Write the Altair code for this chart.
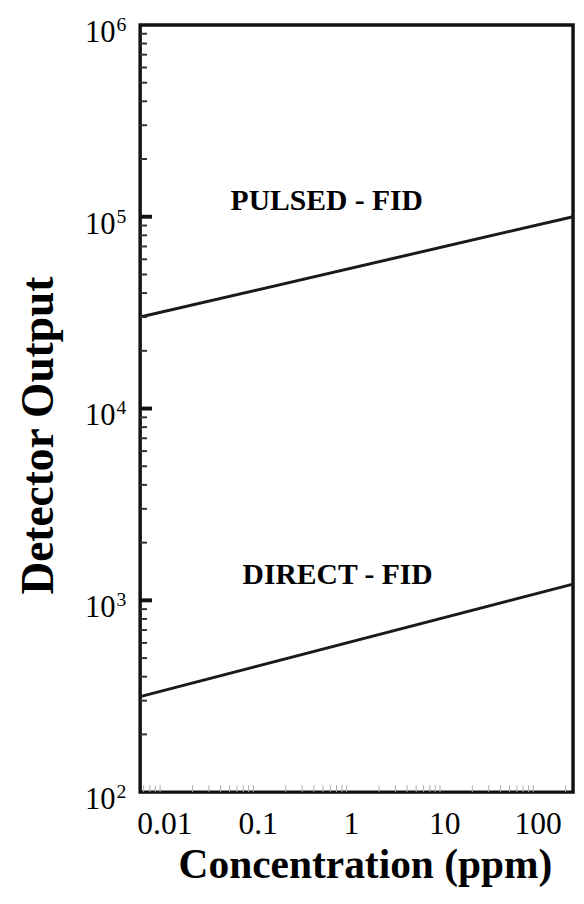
import altair as alt
import pandas as pd

# ---- data ----
conc = [0.0055, 240]                 # ppm, line end points (plot edges)
pulsed = [30000, 100000]             # PULSED - FID detector output
direct = [315, 1215]                 # DIRECT - FID detector output

x_ticks = [0.01, 0.1, 1, 10, 100]
y_major = [1e2, 1e3, 1e4, 1e5, 1e6]
y_exp = ["2", "3", "4", "5", "6"]
y_minor = [m * 10 ** e for e in range(2, 6) for m in range(2, 10)]
x_minor = [m * 10 ** e for e in range(-3, 3) for m in range(2, 10)]
x_minor = [v for v in x_minor if 0.0055 <= v <= 240]

labels = ["PULSED - FID", "DIRECT - FID"]
label_x = [0.55, 0.72]
label_y = [121000, 1350]

X_DOMAIN = [0.0055, 240]
Y_DOMAIN = [100, 1e6]
W, H = 439, 778
SERIF = "Liberation Serif"

lines_df = pd.DataFrame({
    "conc": conc * 2,
    "out": pulsed + direct,
    "series": ["PULSED - FID"] * 2 + ["DIRECT - FID"] * 2,
})
ylab_df = pd.DataFrame({"v": y_major, "base": ["10"] * 5, "exp": y_exp})
ymin_df = pd.DataFrame({"v": y_minor})
ymaj_df = pd.DataFrame({"v": y_major[1:-1]})
xmin_df = pd.DataFrame({"v": x_minor})
lab_df = pd.DataFrame({"t": labels, "x": label_x, "y": label_y})

xs = alt.Scale(type="log", domain=X_DOMAIN, nice=False)
ys = alt.Scale(type="log", domain=Y_DOMAIN, nice=False)

xaxis = alt.Axis(
    values=x_ticks, labelExpr="format(datum.value, '~g')", grid=False,
    domain=False, ticks=False, labelFont=SERIF, labelFontSize=32,
    labelColor="black", labelPadding=17, labelBaseline="top",
    title="Concentration (ppm)", titleFont=SERIF, titleFontSize=42,
    titleFontWeight="bold", titleColor="black", titleX=228, titleY=87,
    titleAlign="center", titleBaseline="alphabetic",
)
yaxis = alt.Axis(
    values=y_major, labels=False, grid=False, domain=False, ticks=False,
    title="Detector Output", titleFont=SERIF, titleFontSize=46,
    titleFontWeight="bold", titleColor="black", titleAngle=270,
    titleX=-103, titleY=416, titleAlign="center", titleBaseline="middle",
)

lines = alt.Chart(lines_df).mark_line(color="#1a1a1a", strokeWidth=3).encode(
    x=alt.X("conc:Q", scale=xs, axis=xaxis),
    y=alt.Y("out:Q", scale=ys, axis=yaxis),
    detail="series:N",
)

ybase = alt.Chart(ylab_df).mark_text(
    font=SERIF, fontSize=31, align="right", baseline="alphabetic", dy=17,
    color="black",
).encode(x=alt.value(-25), y=alt.Y("v:Q", scale=ys), text="base:N")
yexp = alt.Chart(ylab_df).mark_text(
    font=SERIF, fontSize=20, align="left", baseline="alphabetic", dy=6,
    color="black",
).encode(x=alt.value(-24), y=alt.Y("v:Q", scale=ys), text="exp:N")

yminor = alt.Chart(ymin_df).mark_rule(color="#333", strokeWidth=2).encode(
    x=alt.value(0), x2=alt.value(7), y=alt.Y("v:Q", scale=ys))
ymajor = alt.Chart(ymaj_df).mark_rule(color="#111", strokeWidth=4).encode(
    x=alt.value(0), x2=alt.value(12), y=alt.Y("v:Q", scale=ys))
xminor = alt.Chart(xmin_df).mark_rule(color="#aaa", strokeWidth=1).encode(
    x=alt.X("v:Q", scale=xs), y=alt.value(H), y2=alt.value(H - 7))

texts = alt.Chart(lab_df).mark_text(
    font=SERIF, fontSize=30, fontWeight="bold", color="black",
    align="center", baseline="middle",
).encode(x=alt.X("x:Q", scale=xs), y=alt.Y("y:Q", scale=ys), text="t:N")

chart = alt.layer(
    lines, yminor, ymajor, xminor, ybase, yexp, texts
).properties(
    width=W, height=H,
    autosize=alt.AutoSizeParams(type="none"),
    padding={"left": 134, "top": 11, "right": 3, "bottom": 90},
    background="white",
).configure_view(
    stroke="#111", strokeWidth=3.5,
)

chart.save("out.html", embed_options={"renderer": "svg", "actions": False})
